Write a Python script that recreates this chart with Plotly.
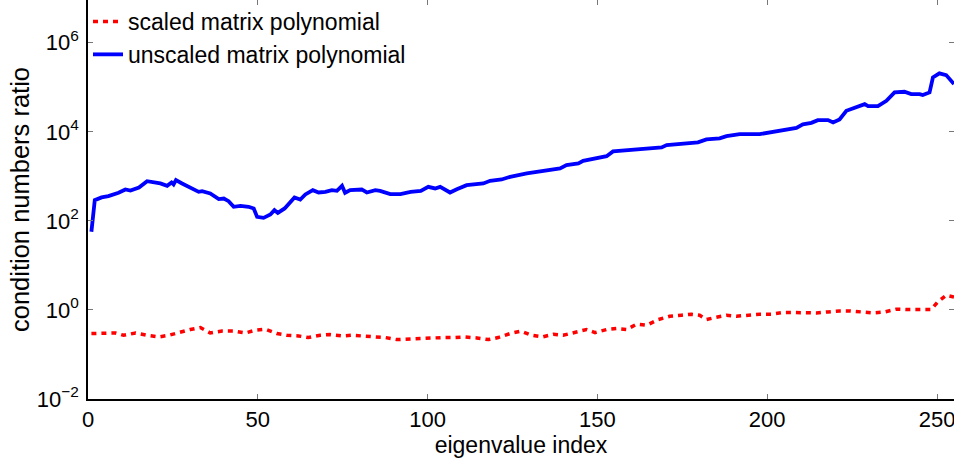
import plotly.graph_objects as go

# unscaled matrix polynomial (blue, solid)
idx_unscaled = [1, 2, 4, 6, 9, 11, 12.5, 15, 17.4, 19.4, 21.3, 23.3, 24.6, 25.2, 25.9, 27.7,
                30, 32.6, 33.6, 36, 38.5, 40, 41.4, 42.9, 44.9, 47.3, 48.8, 49.8, 51.7, 53.7,
                54.9, 55.9, 57.9, 59.3, 60.8, 62.5, 64, 66.2, 67.9, 69.9, 71.8, 73.3, 74.8,
                75.7, 77.2, 80.6, 82.1, 84.6, 86, 89, 92, 95, 98, 100.2, 102.2, 103.7, 106.6,
                108.6, 111.5, 116.4, 118.4, 121.8, 124.3, 129.2, 135.1, 139, 140.9, 144.4,
                145.8, 148.8, 152.7, 154.6, 156.6, 160.5, 165.4, 168.9, 170.4, 175.2, 179.6,
                182.1, 186, 188, 191.9, 197.8, 200.7, 204.4, 208.6, 210.5, 213, 214.9, 217.9,
                219.4, 221.3, 223.3, 226.2, 228.7, 229.7, 232.6, 235.1, 237.5, 240.4, 242.4,
                244.9, 245.8, 247.8, 248.8, 250.7, 252.7, 255]
ratio_unscaled = [57, 292, 336, 359, 427, 507, 479, 562, 780, 729, 692, 612, 729, 658, 822, 692,
                  562, 449, 465, 412, 308, 318, 277, 207, 218, 207, 190, 123, 117, 139,
                  174, 151, 190, 259, 336, 302, 392, 490, 434, 449, 490, 472, 612,
                  427, 490, 507, 434, 490, 472, 398, 398, 449, 472, 581, 535, 581, 434,
                  515, 634, 692, 793, 851, 975, 1160, 1380, 1510, 1790, 1950,
                  2230, 2440, 2840, 3630, 3720, 4020, 4240, 4460, 5020, 5480, 5780,
                  6750, 7110, 8000, 8870, 8870, 9680, 10500, 12300, 14700, 15900, 18300, 18300,
                  16200, 19000, 29700, 36500, 41900, 37800, 37800, 49800, 76700, 79200, 70300,
                  70300, 66800, 76700, 166700, 205100, 187900, 118000]

# scaled matrix polynomial (red, dashed)
idx_scaled = [1, 8.1, 10.5, 14, 17.4, 20.8, 23.8, 27.2, 30.1, 33.1, 36, 39.5, 42.9, 46.3, 49.3,
              52.2, 55.6, 58.6, 62, 64.9, 68.4, 71.3, 74.8, 77.7, 81.1, 84.6, 87.5, 90.9, 94.4,
              97.8, 101.2, 104.6, 107.6, 111, 114.5, 117.9, 120.8, 124.3, 127.5, 130.6, 133.8,
              137, 139.9, 143.4, 146.8, 149.3, 152.7, 155.6, 158.6, 161.5, 164.5, 167.9, 171.3,
              174.8, 177.7, 180.1, 182.1, 184.6, 188, 190.9, 194.4, 197.8, 201.2, 204.6, 207.6,
              211, 214.5, 217.9, 221.3, 224.3, 227.7, 231.1, 234.6, 238, 241.4, 244.9, 248.3,
              250.2, 252.7, 255]
ratio_scaled = [0.295, 0.304, 0.270, 0.304, 0.270, 0.247, 0.270, 0.321, 0.363, 0.403, 0.304,
                0.337, 0.337, 0.304, 0.350, 0.368, 0.295, 0.270, 0.261, 0.240, 0.270, 0.280,
                0.261, 0.270, 0.261, 0.256, 0.240, 0.216, 0.223, 0.220, 0.228, 0.240, 0.240,
                0.247, 0.235, 0.216, 0.240, 0.295, 0.335, 0.270, 0.247, 0.284, 0.270, 0.310,
                0.363, 0.310, 0.363, 0.382, 0.363, 0.478, 0.453, 0.608, 0.721, 0.760, 0.800,
                0.760, 0.608, 0.675, 0.760, 0.721, 0.760, 0.800, 0.800, 0.875, 0.875, 0.857,
                0.857, 0.902, 0.951, 0.951, 0.902, 0.857, 0.902, 1.04, 1.02, 1.02, 1.02, 1.51,
                2.14, 1.95]

x_ticks = [0, 50, 100, 150, 200, 250]
y_ticks = [1e-2, 1e0, 1e2, 1e4, 1e6]
y_tick_text = ["10<sup>\u22122</sup>", "10<sup>0</sup>", "10<sup>2</sup>", "10<sup>4</sup>", "10<sup>6</sup>"]

FONT = "Liberation Sans, Arial, sans-serif"

fig = go.Figure()
fig.add_trace(go.Scatter(x=idx_scaled, y=ratio_scaled, mode="lines",
                         name="scaled matrix polynomial", legendgroup="a",
                         line=dict(color="#ff0000", width=3.5, dash="5px,5px")))
fig.add_trace(go.Scatter(x=idx_unscaled, y=ratio_unscaled, mode="lines",
                         name="unscaled matrix polynomial", legendgroup="b",
                         line=dict(color="#0000ff", width=3.8)))

axis_common = dict(showline=True, linecolor="black", linewidth=1.5, mirror="ticks",
                   ticks="inside", ticklen=5, tickcolor="#777777", tickwidth=1,
                   showgrid=False, zeroline=False, automargin=False,
                   ticklabeloverflow="allow",
                   tickfont=dict(family=FONT, size=22, color="black"))

fig.update_layout(
    width=954, height=459,
    margin=dict(l=88, r=0, t=0, b=60),
    paper_bgcolor="white", plot_bgcolor="white",
    font=dict(family=FONT, color="black"),
    xaxis=dict(range=[0, 255], tickvals=x_ticks, **axis_common,
               title=dict(text="eigenvalue index", font=dict(family=FONT, size=23), standoff=0)),
    yaxis=dict(type="log", range=[-2, 6.96], tickvals=y_ticks, ticktext=y_tick_text,
               ticklabelstandoff=3, **axis_common,
               title=dict(text="condition numbers ratio", font=dict(family=FONT, size=25.5), standoff=0)),
    legend=dict(x=0.0, y=1.0, xanchor="left", yanchor="top", bgcolor="rgba(0,0,0,0)",
                font=dict(family=FONT, size=23), itemwidth=30, tracegroupgap=0,
                traceorder="grouped"),
    showlegend=True,
)

fig.write_html("out.html", config={"displayModeBar": False},
               post_script="document.body.style.margin='0';document.body.style.overflow='hidden';")
